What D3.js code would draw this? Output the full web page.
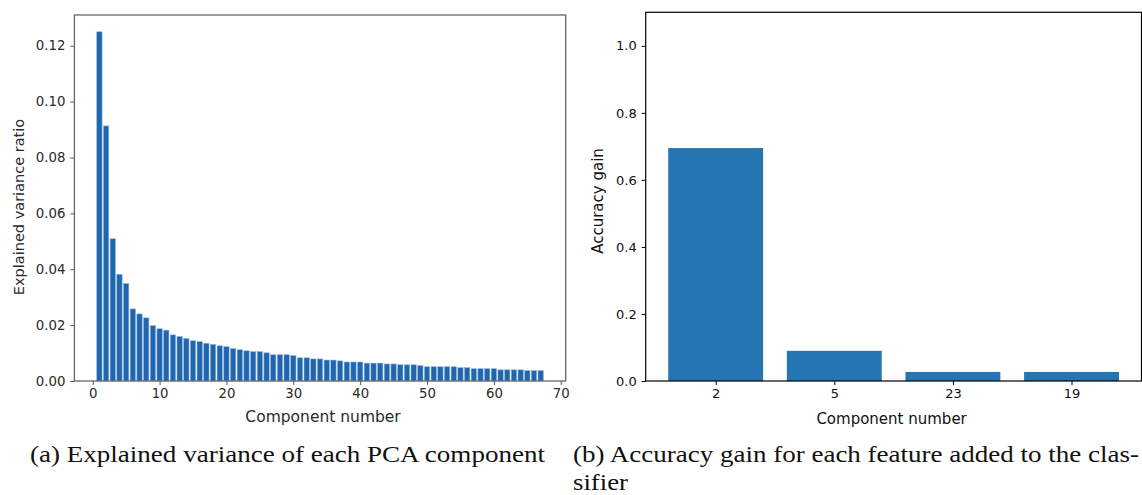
<!DOCTYPE html>
<html>
<head>
<meta charset="utf-8">
<script src="https://cdn.jsdelivr.net/npm/d3@7"></script>
<style>
  html, body { margin: 0; padding: 0; background: #fff; }
  svg { display: block; }
</style>
</head>
<body>
<svg id="chart" width="1142" height="495"></svg>
<script>
// ---- Data ----
const pcaComponents = d3.range(1, 68);
const pcaVariance = [
  0.1250, 0.0913, 0.0509, 0.0382, 0.0349, 0.0258, 0.0240, 0.0226, 0.0198, 0.0187,
  0.0182, 0.0165, 0.0159, 0.0152, 0.0144, 0.0141, 0.0135, 0.0131, 0.0126, 0.0123,
  0.0116, 0.0112, 0.0108, 0.0105, 0.0105, 0.0101, 0.0094, 0.0094, 0.0094, 0.0091,
  0.0083, 0.0083, 0.0079, 0.0079, 0.0075, 0.0075, 0.0072, 0.0068, 0.0068, 0.0068,
  0.0064, 0.0064, 0.0064, 0.0061, 0.0061, 0.0058, 0.0058, 0.0058, 0.0055, 0.0051,
  0.0051, 0.0051, 0.0051, 0.0051, 0.0048, 0.0048, 0.0044, 0.0044, 0.0044, 0.0044,
  0.0040, 0.0040, 0.0040, 0.0040, 0.0037, 0.0037, 0.0037
];
const pcaXTicks = [0, 10, 20, 30, 40, 50, 60, 70];
const pcaYTicks = [0, 0.02, 0.04, 0.06, 0.08, 0.10, 0.12];

const gainCategories = ["2", "5", "23", "19"];
const gainValues = [0.695, 0.090, 0.027, 0.027];
const gainYTicks = [0, 0.2, 0.4, 0.6, 0.8, 1.0];

const captionA = "(a) Explained variance of each PCA component";
const captionB1 = "(b) Accuracy gain for each feature added to the clas-";
const captionB2 = "sifier";
const xLabel = "Component number";
const yLabelA = "Explained variance ratio";
const yLabelB = "Accuracy gain";

// ---- Drawing ----
const svg = d3.select("#chart");
const sans = "DejaVu Sans, sans-serif";

// Left panel
(function () {
  const x = d3.scaleLinear().domain([-2.74, 70.74]).range([74.4, 565.7]);
  const y = d3.scaleLinear().domain([0, 0.131]).range([381, 15]);
  const g = svg.append("g");
  const bw = x(0.8) - x(0);
  g.selectAll("rect.bar").data(pcaComponents).join("rect")
    .attr("class", "bar")
    .attr("x", (d) => x(d - 0.4))
    .attr("width", bw)
    .attr("y", (d, i) => y(pcaVariance[i]))
    .attr("height", (d, i) => y(0) - y(pcaVariance[i]))
    .attr("fill", "#1f66ae")
    .attr("stroke", "#8fb2dc")
    .attr("stroke-width", 0.6);

  const xa = g.append("g").attr("transform", "translate(0,381)")
    .call(d3.axisBottom(x).tickValues(pcaXTicks).tickFormat(d3.format("d")).tickSize(4).tickPadding(4).tickSizeOuter(0));
  const ya = g.append("g").attr("transform", "translate(74.4,0)")
    .call(d3.axisLeft(y).tickValues(pcaYTicks).tickFormat(d3.format(".2f")).tickSize(4).tickPadding(5).tickSizeOuter(0));
  [xa, ya].forEach((a) => {
    a.select(".domain").remove();
    a.selectAll("line").attr("stroke", "#555");
    a.selectAll("text").attr("font-family", sans).attr("font-size", 13.3).attr("fill", "#2a2a2a");
  });
  g.append("rect").attr("x", 74.4).attr("y", 15).attr("width", 565.7 - 74.4).attr("height", 381 - 15)
    .attr("fill", "none").attr("stroke", "#666").attr("stroke-width", 1.3);
  g.append("text").attr("x", (74.4 + 565.7) / 2 + 3).attr("y", 422).attr("text-anchor", "middle")
    .attr("font-family", sans).attr("font-size", 15.5).attr("fill", "#2a2a2a").text(xLabel);
  g.append("text").attr("transform", "translate(24,207) rotate(-90)").attr("text-anchor", "middle")
    .attr("font-family", sans).attr("font-size", 14.5).attr("fill", "#2a2a2a").text(yLabelA);
})();

// Right panel
(function () {
  const x = d3.scaleLinear().domain([-0.59, 3.59]).range([645.7, 1141.5]);
  const y = d3.scaleLinear().domain([0, 1.1]).range([381, 12.3]);
  const g = svg.append("g");
  const idx = gainCategories.map((c, i) => i);
  g.selectAll("rect.bar").data(idx).join("rect")
    .attr("class", "bar")
    .attr("x", (i) => x(i - 0.4))
    .attr("width", x(0.8) - x(0))
    .attr("y", (i) => y(gainValues[i]))
    .attr("height", (i) => y(0) - y(gainValues[i]))
    .attr("fill", "#2475b1");

  const xa = g.append("g").attr("transform", "translate(0,381)")
    .call(d3.axisBottom(x).tickValues(idx).tickFormat((i) => gainCategories[i]).tickSize(4).tickPadding(4).tickSizeOuter(0));
  const ya = g.append("g").attr("transform", "translate(645.7,0)")
    .call(d3.axisLeft(y).tickValues(gainYTicks).tickFormat(d3.format(".1f")).tickSize(4).tickPadding(5).tickSizeOuter(0));
  [xa, ya].forEach((a) => {
    a.select(".domain").remove();
    a.selectAll("line").attr("stroke", "#000");
    a.selectAll("text").attr("font-family", sans).attr("font-size", 13).attr("fill", "#111");
  });
  g.append("rect").attr("x", 645.7).attr("y", 12.3).attr("width", 1141.5 - 645.7).attr("height", 381 - 12.3)
    .attr("fill", "none").attr("stroke", "#000").attr("stroke-width", 1.2);
  g.append("text").attr("x", (645.7 + 1141.5) / 2 - 2).attr("y", 424).attr("text-anchor", "middle")
    .attr("font-family", sans).attr("font-size", 15).attr("fill", "#111").text(xLabel);
  g.append("text").attr("transform", "translate(603,201) rotate(-90)").attr("text-anchor", "middle")
    .attr("font-family", sans).attr("font-size", 15).attr("fill", "#111").text(yLabelB);
})();

// Captions
const serif = "Liberation Serif, DejaVu Serif, serif";
svg.append("text").attr("x", 30).attr("y", 461.5).attr("font-family", serif).attr("font-size", 24)
  .attr("fill", "#111").attr("textLength", 515).attr("lengthAdjust", "spacingAndGlyphs").text(captionA);
svg.append("text").attr("x", 573).attr("y", 461.5).attr("font-family", serif).attr("font-size", 24)
  .attr("fill", "#111").attr("textLength", 566).attr("lengthAdjust", "spacingAndGlyphs").text(captionB1);
svg.append("text").attr("x", 573).attr("y", 489.5).attr("font-family", serif).attr("font-size", 24)
  .attr("fill", "#111").attr("textLength", 55).attr("lengthAdjust", "spacingAndGlyphs").text(captionB2);
</script>
</body>
</html>
